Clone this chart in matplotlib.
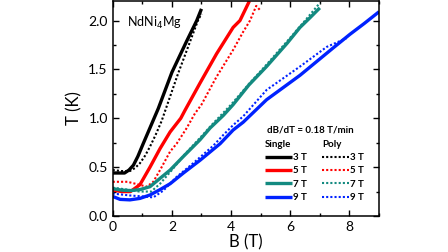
import numpy as np
import matplotlib
matplotlib.use('Agg')
import matplotlib.pyplot as plt
from matplotlib.ticker import MultipleLocator

plt.rcParams['font.family'] = ['Lato', 'DejaVu Sans']

# field values (T) and temperatures (K)
# single crystal (solid lines)
b_s3 = [0.0, 0.4, 0.55, 0.7, 0.85, 1.03, 1.2, 1.37, 1.54, 2.0, 2.5, 2.84, 3.0]
t_s3 = [0.44, 0.44, 0.47, 0.52, 0.61, 0.74, 0.86, 0.98, 1.1, 1.47, 1.79, 2.0, 2.12]
b_s5 = [0.0, 0.3, 0.6, 0.92, 1.26, 1.6, 1.94, 2.3, 2.44, 2.95, 3.51, 4.07, 4.3, 4.62]
t_s5 = [0.266, 0.25, 0.25, 0.32, 0.5, 0.69, 0.86, 1.0, 1.08, 1.36, 1.66, 1.93, 2.0, 2.2]
b_s7 = [0.0, 0.3, 0.6, 0.92, 1.26, 1.6, 1.94, 2.39, 2.95, 3.29, 3.74, 4.07, 4.6, 5.2, 5.9, 6.33, 6.67, 7.0]
t_s7 = [0.28, 0.265, 0.26, 0.27, 0.30, 0.385, 0.47, 0.61, 0.78, 0.9, 1.03, 1.14, 1.34, 1.53, 1.77, 1.93, 2.03, 2.13]
b_s9 = [0.0, 0.25, 0.58, 0.92, 1.26, 1.6, 1.94, 2.39, 2.95, 3.63, 4.07, 4.41, 5.2, 6.33, 7.45, 8.02, 8.5, 9.0]
t_s9 = [0.20, 0.17, 0.165, 0.18, 0.215, 0.27, 0.33, 0.44, 0.57, 0.74, 0.88, 0.96, 1.19, 1.44, 1.72, 1.86, 1.97, 2.09]

# polycrystal (dotted lines)
b_p3 = [0.0, 0.3, 0.58, 0.75, 0.92, 1.1, 1.26, 1.45, 1.65, 2.2, 2.88, 3.0]
t_p3 = [0.47, 0.46, 0.46, 0.49, 0.54, 0.62, 0.71, 0.83, 0.97, 1.45, 2.0, 2.07]
b_p5 = [0.0, 0.5, 0.9, 1.15, 1.37, 1.6, 1.94, 2.16, 2.5, 2.78, 3.0, 3.5, 4.07, 4.4, 4.64, 4.85, 5.0]
t_p5 = [0.35, 0.35, 0.32, 0.30, 0.35, 0.47, 0.66, 0.74, 0.9, 1.05, 1.14, 1.42, 1.70, 1.88, 2.0, 2.15, 2.1]
b_p7 = [0.0, 0.5, 0.9, 1.3, 1.6, 2.0, 2.4, 2.95, 3.4, 4.0, 4.6, 5.2, 5.9, 6.5, 7.0]
t_p7 = [0.29, 0.27, 0.25, 0.25, 0.33, 0.47, 0.62, 0.8, 0.95, 1.14, 1.35, 1.55, 1.79, 2.0, 2.18]
b_p9 = [0.0, 0.58, 1.03, 1.37, 1.71, 2.16, 2.72, 3.4, 3.74, 4.07, 4.41, 5.2, 6.33, 7.23, 7.9]
t_p9 = [0.23, 0.21, 0.20, 0.19, 0.26, 0.40, 0.54, 0.72, 0.83, 0.93, 1.02, 1.29, 1.53, 1.73, 1.82]

labels = ['3 T', '5 T', '7 T', '9 T']
colors = ['black', '#ff0000', '#138a80', '#0022ff']

fig = plt.figure(figsize=(4.48, 2.52), dpi=100)
ax = fig.add_axes([0.2516, 0.1429, 0.5944, 0.853])

single = [(b_s3, t_s3), (b_s5, t_s5), (b_s7, t_s7), (b_s9, t_s9)]
poly = [(b_p3, t_p3), (b_p5, t_p5), (b_p7, t_p7), (b_p9, t_p9)]

h_single = []
h_poly = []
for (b, t), (bp, tp), c, lab in zip(single, poly, colors, labels):
    ln, = ax.plot(b, t, color=c, lw=2.4, label=lab, solid_capstyle='butt')
    h_single.append(ln)
    lp, = ax.plot(bp, tp, color=c, lw=1.5, ls=(0, (1, 1)), label=lab)
    h_poly.append(lp)

ax.set_xlim(0, 9)
ax.set_ylim(0, 2.2)
ax.xaxis.set_major_locator(MultipleLocator(2))
ax.xaxis.set_minor_locator(MultipleLocator(1))
ax.yaxis.set_major_locator(MultipleLocator(0.5))
ax.yaxis.set_minor_locator(MultipleLocator(0.25))
ax.yaxis.set_major_formatter(matplotlib.ticker.FormatStrFormatter('%.1f'))
ax.tick_params(which='both', direction='in', top=True, right=True, width=1.0, labelsize=10)
ax.tick_params(which='major', length=4)
ax.tick_params(which='minor', length=2.5)
for s in ax.spines.values():
    s.set_linewidth(1.1)

ax.set_xlabel('B (T)', fontsize=12, labelpad=1)
ax.set_ylabel('T (K)', fontsize=12, labelpad=4)

ax.text(0.055, 0.9, 'NdNi$_4$Mg', transform=ax.transAxes, fontsize=9, va='center')
ax.text(0.578, 0.40, 'dB/dT = 0.18 T/min', transform=ax.transAxes, fontsize=7,
        fontweight='bold', va='center')

leg_kw = dict(frameon=False, prop={'weight': 'bold', 'size': 7},
              title_fontproperties={'weight': 'bold', 'size': 7}, alignment='left',
              handlelength=2.8, handletextpad=0.1, labelspacing=0.45,
              borderpad=0, borderaxespad=0)
leg1 = ax.legend(handles=h_single, title='Single', loc='upper left',
                 bbox_to_anchor=(0.572, 0.355), **leg_kw)
ax.add_artist(leg1)
ax.legend(handles=h_poly, title='Poly', loc='upper left',
          bbox_to_anchor=(0.786, 0.355), **leg_kw)

fig.savefig('out.png', dpi=100)
